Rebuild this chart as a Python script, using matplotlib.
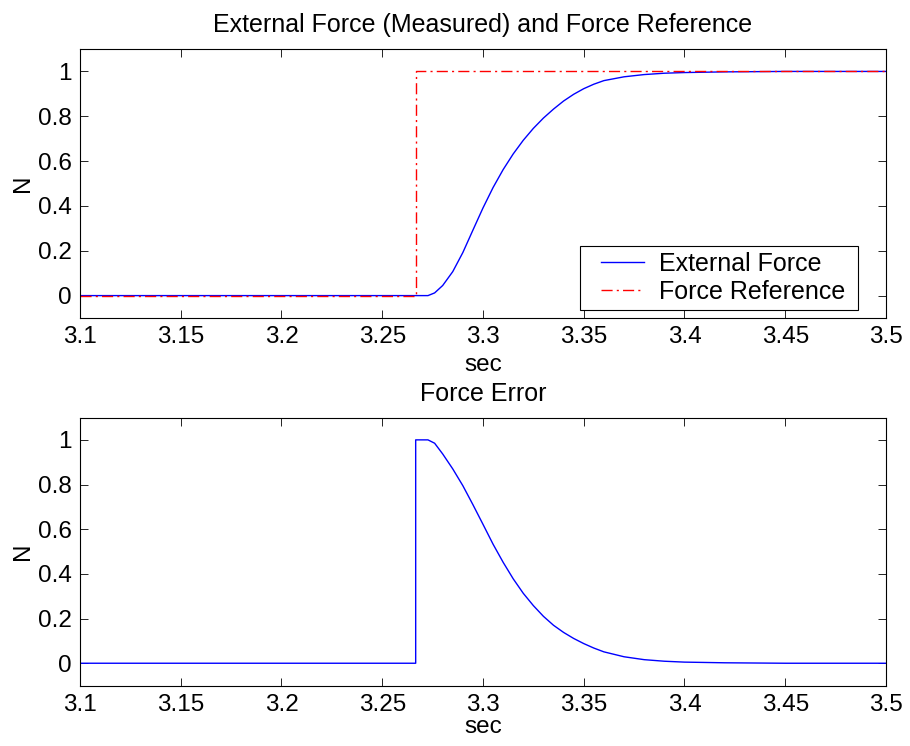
import matplotlib
matplotlib.use("Agg")
import matplotlib.pyplot as plt
from matplotlib.lines import Line2D
from matplotlib.legend_handler import HandlerLine2D

plt.rcParams['font.family'] = ['Liberation Sans', 'DejaVu Sans']

# time samples (sec)
t = [3.100, 3.2666, 3.2727, 3.276, 3.280, 3.285, 3.290, 3.295, 3.300, 3.305,
     3.310, 3.315, 3.320, 3.325, 3.330, 3.335, 3.340, 3.345, 3.350, 3.355,
     3.360, 3.370, 3.380, 3.390, 3.400, 3.420, 3.450, 3.500]

# measured external force (N)
ext_force = [0.0, 0.0, 0.0, 0.012, 0.045, 0.107, 0.192, 0.292, 0.391, 0.482,
             0.562, 0.632, 0.693, 0.746, 0.792, 0.832, 0.868, 0.898, 0.923, 0.943,
             0.959, 0.976, 0.986, 0.992, 0.995, 0.998, 1.0, 1.0]

# force reference step
ref_t = [3.100, 3.2666, 3.2666, 3.500]
ref_force = [0.0, 0.0, 1.0, 1.0]

# force error (N)
err_t = [3.100, 3.2666, 3.2666, 3.2727, 3.276, 3.280, 3.285, 3.290, 3.295, 3.300,
         3.305, 3.310, 3.315, 3.320, 3.325, 3.330, 3.335, 3.340, 3.345, 3.350,
         3.355, 3.360, 3.370, 3.380, 3.390, 3.400, 3.420, 3.450, 3.500]
err_force = [0.0, 0.0, 1.0, 1.0, 0.985, 0.937, 0.870, 0.795, 0.710, 0.622,
             0.533, 0.452, 0.378, 0.313, 0.258, 0.210, 0.170, 0.138, 0.111, 0.088,
             0.068, 0.051, 0.029, 0.016, 0.009, 0.005, 0.002, 0.0, 0.0]

xticks = [3.1, 3.15, 3.2, 3.25, 3.3, 3.35, 3.4, 3.45, 3.5]
xtick_labels = ['3.1', '3.15', '3.2', '3.25', '3.3', '3.35', '3.4', '3.45', '3.5']
yticks = [0, 0.2, 0.4, 0.6, 0.8, 1]
ytick_labels = ['0', '0.2', '0.4', '0.6', '0.8', '1']

FS = 17.5


def style_axes(ax, title, xpad):
    ax.set_xlim(3.1, 3.5)
    ax.set_ylim(-0.1, 1.1)
    ax.set_xticks(xticks)
    ax.set_xticklabels(xtick_labels)
    ax.set_yticks(yticks)
    ax.set_yticklabels(ytick_labels)
    ax.tick_params(direction='in', length=6, width=0.6, top=True, right=True,
                   labelsize=FS, pad=6)
    for s in ax.spines.values():
        s.set_linewidth(0.8)
    ax.set_xlabel('sec', fontsize=FS, labelpad=xpad)
    ax.set_ylabel('N', fontsize=FS, labelpad=3)
    ax.set_title(title, fontsize=18, pad=12)


fig = plt.figure(figsize=(9.1, 7.46), dpi=100)

ax1 = fig.add_axes([0.0879, 0.5737, 0.8857, 0.3606])
ax1.plot(t, ext_force, color='blue', lw=1.0, label='External Force ')
ax1.plot(ref_t, ref_force, color='red', lw=1.0, linestyle=(0, (8, 3, 1.5, 3)),
         label='Force Reference ')
style_axes(ax1, 'External Force (Measured) and Force Reference', 4)
leg = ax1.legend(loc='lower right', bbox_to_anchor=(0.9656, 0.03), borderaxespad=0,
                 fontsize=18, fancybox=False, framealpha=1, edgecolor='black',
                 handlelength=2.9, labelspacing=0.15, borderpad=0.25,
                 handletextpad=0.0, numpoints=2,
                 handler_map={Line2D: HandlerLine2D(marker_pad=0.6, numpoints=2)})
leg.get_frame().set_linewidth(0.8)

ax2 = fig.add_axes([0.0879, 0.081, 0.8857, 0.3593])
ax2.plot(err_t, err_force, color='blue', lw=1.0)
style_axes(ax2, 'Force Error', 0)

fig.savefig('out.png', dpi=100)
